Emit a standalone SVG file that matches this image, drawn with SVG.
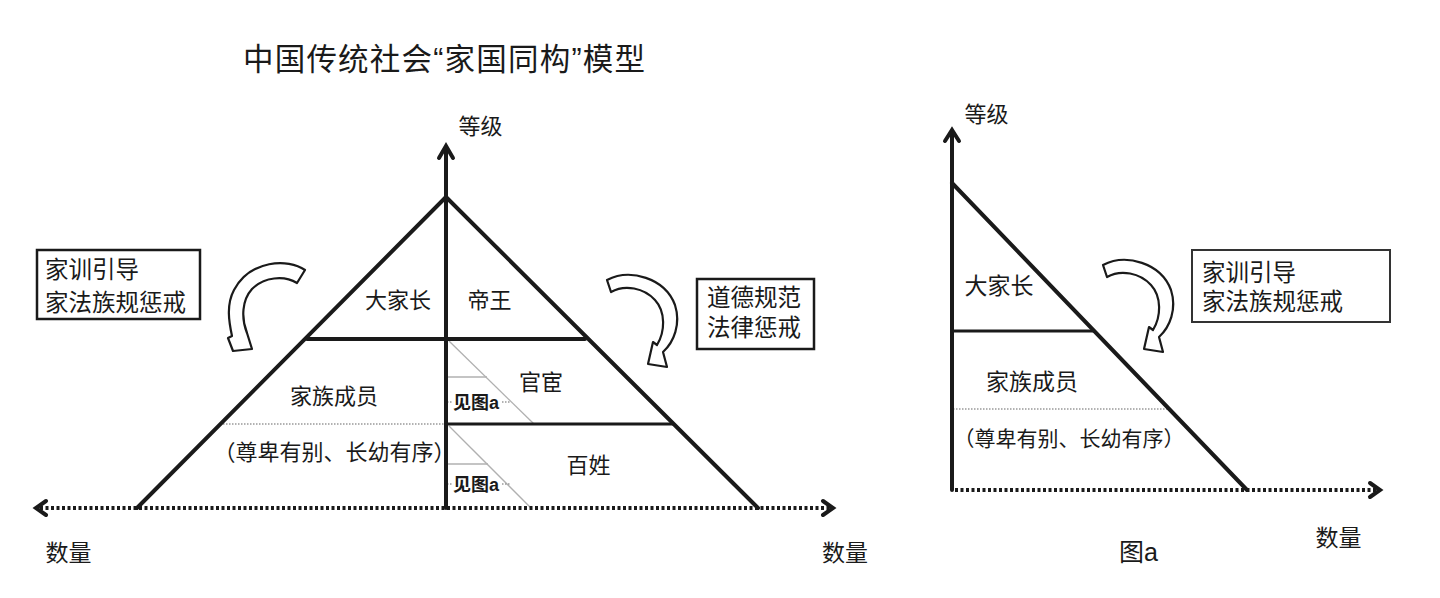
<svg xmlns="http://www.w3.org/2000/svg" width="1440" height="598" viewBox="0 0 1440 598">
<defs>
<style>
text{font-family:"Liberation Sans","Noto Sans CJK SC",sans-serif;fill:#1a1a1a}
.t22{font-size:22px}
.t23{font-size:23px}
.ref{font-size:18px;font-weight:bold}
.box{fill:#fff;stroke:#1a1a1a;stroke-width:2.5}
.thick{stroke:#1a1a1a;stroke-width:4;fill:none;stroke-linecap:round}
.mid{stroke:#1a1a1a;stroke-width:3;fill:none}
.gray{stroke:#b0b0b0;stroke-width:1.3;fill:none}
.gdot{stroke:#999;stroke-width:1.5;fill:none;stroke-dasharray:1.5 1.5}
.axis{stroke:#1a1a1a;stroke-width:4;fill:none;stroke-dasharray:3 2.5}
.head{stroke:#1a1a1a;stroke-width:4;fill:none;stroke-linecap:round;stroke-linejoin:miter}
.curl{fill:#fff;stroke:#1a1a1a;stroke-width:2.2;stroke-linejoin:round}
</style>
<path id="curlR" d="M 607 280 C 630 268, 665 278, 675 305 C 681 324, 674 342, 663 352 L 667 367 L 648 364 L 653 342 L 657 345 C 665 332, 666 312, 655 300 C 644 288, 625 284, 611 292 Z"/>
</defs>
<rect width="1440" height="598" fill="#fff"/>

<g id="title"><text x="243" y="70" textLength="402" lengthAdjust="spacing" style="font-size:30.5px">中国传统社会“家国同构”模型</text></g>

<g id="connectors">
  <!-- main pyramid -->
  <line class="gdot" x1="220" y1="424" x2="446" y2="424"/>
  <line class="gray" x1="449" y1="341" x2="534" y2="424"/>
  <line class="gray" x1="449" y1="426" x2="531" y2="508"/>
  <line class="gray" x1="447" y1="377" x2="487" y2="377"/>
  <line class="gray" x1="447" y1="464" x2="488" y2="464"/>
  <line class="gdot" x1="447" y1="402" x2="453" y2="402"/>
  <line class="gdot" x1="502" y1="402" x2="510" y2="402"/>
  <line class="gdot" x1="447" y1="484" x2="453" y2="484"/>
  <line class="gdot" x1="502" y1="484" x2="510" y2="484"/>
  <line class="axis" x1="40" y1="508" x2="831" y2="508"/>
  <polyline class="head" points="46,501 36,508 46,515"/>
  <polyline class="head" points="823,501 833,508 823,515"/>
  <line class="thick" x1="446" y1="197" x2="137" y2="508"/>
  <line class="thick" x1="446" y1="197" x2="758" y2="508"/>
  <line class="thick" x1="446" y1="508" x2="446" y2="148"/>
  <polyline class="head" points="439,158 446,146 453,158"/>
  <line class="thick" x1="307" y1="339" x2="585" y2="339"/>
  <line class="mid" x1="446" y1="424" x2="673" y2="424"/>
  <!-- figure a -->
  <line class="gdot" x1="953" y1="409" x2="1168" y2="409"/>
  <line class="axis" x1="955" y1="490" x2="1378" y2="490"/>
  <polyline class="head" points="1370,483 1380,490 1370,497"/>
  <line class="thick" x1="952" y1="490" x2="952" y2="133"/>
  <polyline class="head" points="945,141 952,130 959,141"/>
  <line class="thick" x1="952" y1="183" x2="1247" y2="490"/>
  <line class="mid" x1="952" y1="331" x2="1095" y2="331"/>
</g>

<g id="curl-left"><path class="curl" d="M 305 270 C 288 258, 250 260, 234 290 C 226 305, 229 322, 232 336 L 228 338 L 233 351 L 252 349 L 247 333 C 241 318, 242 300, 252 289 C 264 277, 284 275, 297 283 Z"/></g>
<g id="curl-right"><use href="#curlR" class="curl"/></g>
<g id="curl-a"><use href="#curlR" class="curl" transform="translate(496,-15)"/></g>

<g id="box-left">
  <rect class="box" x="37" y="250" width="163" height="69"/>
  <text x="45" y="278" style="font-size:23.5px">家训引导</text>
  <text x="45" y="311" style="font-size:23.5px">家法族规惩戒</text>
</g>
<g id="box-right">
  <rect class="box" x="697" y="279" width="117" height="70"/>
  <text x="707" y="306" style="font-size:23.5px">道德规范</text>
  <text x="707" y="336" style="font-size:23.5px">法律惩戒</text>
</g>

<g id="axis-labels">
  <text class="t22" x="480.5" y="134" text-anchor="middle">等级</text>
  <text class="t23" x="68.5" y="561" text-anchor="middle">数量</text>
  <text class="t23" x="845" y="561" text-anchor="middle">数量</text>
</g>

<g id="node-dajiazhang"><text class="t22" x="398" y="308" text-anchor="middle">大家长</text></g>
<g id="node-diwang"><text class="t22" x="489.5" y="308" text-anchor="middle">帝王</text></g>
<g id="node-jiazuchengyuan"><text class="t22" x="334" y="404" text-anchor="middle">家族成员</text></g>
<g id="node-zunbei"><text class="t22" x="334.5" y="460" text-anchor="middle">（尊卑有别、长幼有序）</text></g>
<g id="node-guanhuan"><text class="t22" x="541" y="390" text-anchor="middle">官宦</text></g>
<g id="node-baixing"><text class="t22" x="588.5" y="473" text-anchor="middle">百姓</text></g>
<g id="ref1"><text class="ref" x="453" y="409">见图a</text></g>
<g id="ref2"><text class="ref" x="453" y="491">见图a</text></g>

<g id="figure-a">
  <text class="t22" x="986.5" y="122" text-anchor="middle">等级</text>
  <text class="t23" x="999" y="294" text-anchor="middle">大家长</text>
  <text class="t23" x="1032" y="390" text-anchor="middle">家族成员</text>
  <text x="1069" y="446" text-anchor="middle" style="font-size:21px">（尊卑有别、长幼有序）</text>
  <rect x="1192" y="250" width="198" height="72" fill="#fff" stroke="#333" stroke-width="2"/>
  <text x="1202" y="281" style="font-size:23.5px">家训引导</text>
  <text x="1202" y="310" style="font-size:23.5px">家法族规惩戒</text>
  <text x="1138.5" y="561" text-anchor="middle" style="font-size:25px">图a</text>
  <text class="t23" x="1338.5" y="546" text-anchor="middle">数量</text>
</g>
</svg>
